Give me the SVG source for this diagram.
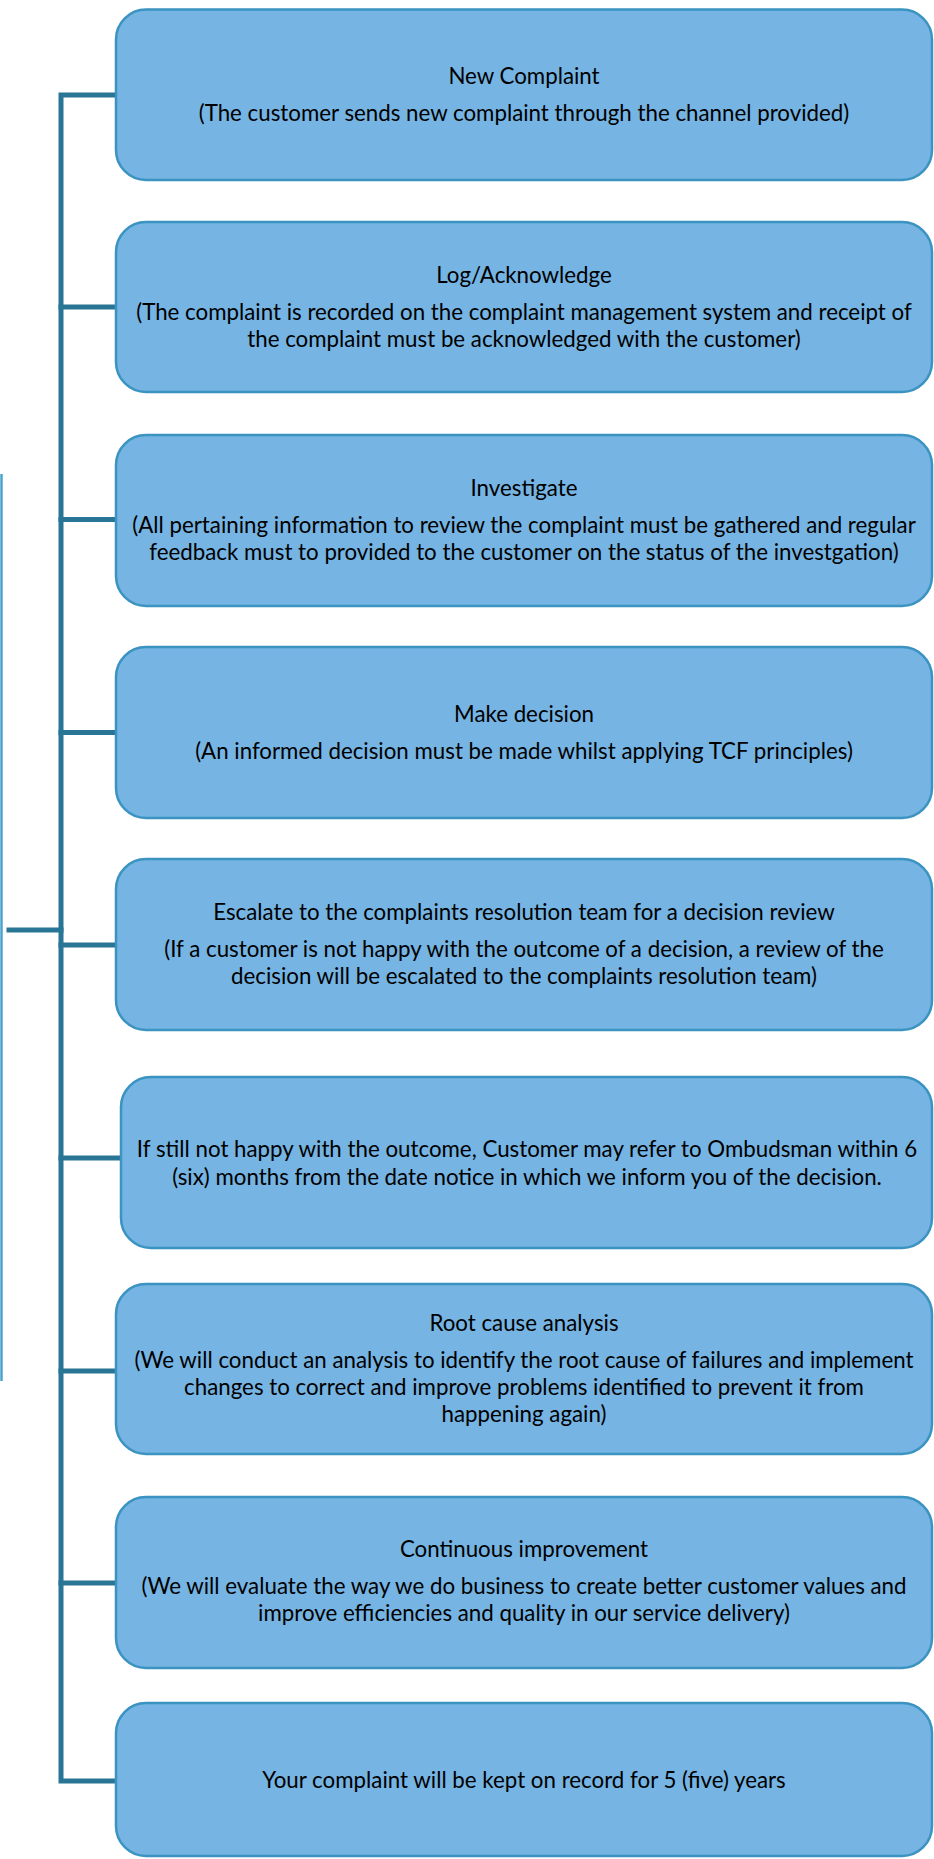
<svg xmlns="http://www.w3.org/2000/svg" width="934" height="1859" viewBox="0 0 934 1859">
<style>
.box{fill:#75b4e3;stroke:#3a93c0;stroke-width:2.5}
.t{font-family:Lato,"Liberation Sans",sans-serif;font-size:22.3px;fill:#000;text-anchor:middle}
.c{fill:none;stroke:#297595;stroke-width:5;stroke-linejoin:miter;stroke-linecap:square}
</style>
<rect width="934" height="1859" fill="#fff"/>
<g id="connectors">
<line x1="1.5" y1="474" x2="1.5" y2="1381" stroke="#4aa3cc" stroke-width="2.5"/>
<path class="c" d="M116 95H61V1781H116"/>
<path class="c" d="M61 307H116M61 519.5H116M61 732.5H116M61 945H116M61 1158H121M61 1371H116M61 1583H116"/>
<path class="c" d="M9 930H61"/>
</g>
<g id="n1"><rect class="box" x="116" y="9.5" width="816" height="170.5" rx="30"/>
<text class="t" x="524" y="84">New Complaint</text>
<text class="t" x="524" y="121">(The customer sends new complaint through the channel provided)</text></g>
<g id="n2"><rect class="box" x="116" y="222" width="816" height="170" rx="30"/>
<text class="t" x="524" y="282.5">Log/Acknowledge</text>
<text class="t" x="524" y="319.5">(The complaint is recorded on the complaint management system and receipt of</text>
<text class="t" x="524" y="346.5">the complaint must be acknowledged with the customer)</text></g>
<g id="n3"><rect class="box" x="116" y="435" width="816" height="171" rx="30"/>
<text class="t" x="524" y="496">Investigate</text>
<text class="t" x="524" y="533">(All pertaining information to review the complaint must be gathered and regular</text>
<text class="t" x="524" y="560">feedback must to provided to the customer on the status of the investgation)</text></g>
<g id="n4"><rect class="box" x="116" y="647" width="816" height="171" rx="30"/>
<text class="t" x="524" y="721.5">Make decision</text>
<text class="t" x="524" y="758.5">(An informed decision must be made whilst applying TCF principles)</text></g>
<g id="n5"><rect class="box" x="116" y="859" width="816" height="171" rx="30"/>
<text class="t" x="524" y="920">Escalate to the complaints resolution team for a decision review</text>
<text class="t" x="524" y="957">(If a customer is not happy with the outcome of a decision, a review of the</text>
<text class="t" x="524" y="984">decision will be escalated to the complaints resolution team)</text></g>
<g id="n6"><rect class="box" x="121" y="1077" width="811" height="171" rx="30"/>
<text class="t" x="527" y="1156.5">If still not happy with the outcome, Customer may refer to Ombudsman within 6</text>
<text class="t" x="527" y="1184.5">(six) months from the date notice in which we inform you of the decision.</text></g>
<g id="n7"><rect class="box" x="116" y="1284" width="816" height="170" rx="30"/>
<text class="t" x="524" y="1331">Root cause analysis</text>
<text class="t" x="524" y="1368">(We will conduct an analysis to identify the root cause of failures and implement</text>
<text class="t" x="524" y="1395">changes to correct and improve problems identified to prevent it from</text>
<text class="t" x="524" y="1422">happening again)</text></g>
<g id="n8"><rect class="box" x="116" y="1497" width="816" height="171" rx="30"/>
<text class="t" x="524" y="1557">Continuous improvement</text>
<text class="t" x="524" y="1594">(We will evaluate the way we do business to create better customer values and</text>
<text class="t" x="524" y="1621">improve efficiencies and quality in our service delivery)</text></g>
<g id="n9"><rect class="box" x="116" y="1703" width="816" height="153" rx="30"/>
<text class="t" x="524" y="1787.5">Your complaint will be kept on record for 5 (five) years</text></g>
</svg>
